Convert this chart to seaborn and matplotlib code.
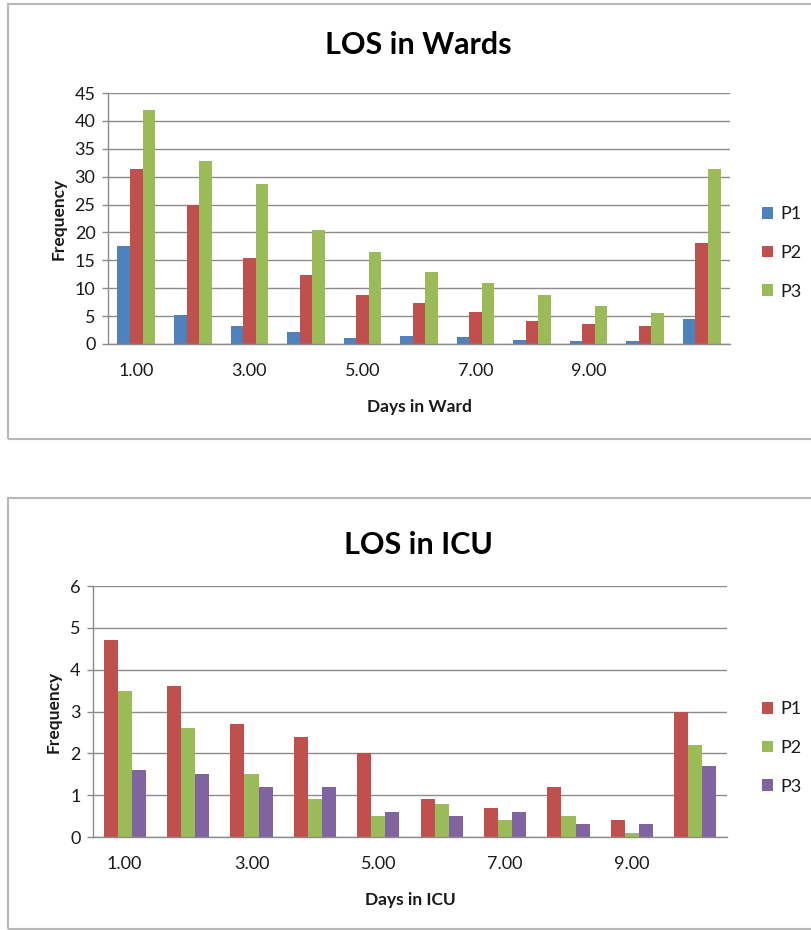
import matplotlib
matplotlib.use("Agg")
import matplotlib.pyplot as plt
import seaborn as sns
import pandas as pd
from matplotlib.patches import Rectangle, Patch

# ---- data ----
ward_days = [1, 2, 3, 4, 5, 6, 7, 8, 9, 10, 11]
ward_p1 = [17.5, 5.2, 3.3, 2.1, 1.1, 1.4, 1.3, 0.8, 0.6, 0.5, 4.4]
ward_p2 = [31.3, 25.0, 15.5, 12.4, 8.8, 7.3, 5.7, 4.1, 3.6, 3.2, 18.1]
ward_p3 = [42.0, 32.8, 28.7, 20.4, 16.5, 12.9, 10.9, 8.7, 6.9, 5.6, 31.4]

icu_days = [1, 2, 3, 4, 5, 6, 7, 8, 9, 10]
icu_p1 = [4.7, 3.6, 2.7, 2.4, 2.0, 0.9, 0.7, 1.2, 0.4, 3.0]
icu_p2 = [3.5, 2.6, 1.5, 0.9, 0.5, 0.8, 0.4, 0.5, 0.1, 2.2]
icu_p3 = [1.6, 1.5, 1.2, 1.2, 0.6, 0.5, 0.6, 0.3, 0.3, 1.7]

series_names = ["P1", "P2", "P3"]
ward_tick_labels = ["1.00", "", "3.00", "", "5.00", "", "7.00", "", "9.00", "", ""]
icu_tick_labels = ["1.00", "", "3.00", "", "5.00", "", "7.00", "", "9.00", ""]

ward_colors = ["#4F81BD", "#C0504D", "#9BBB59"]
icu_colors = ["#C0504D", "#9BBB59", "#8064A2"]


def long_df(days, vals):
    rows = []
    for name, v in zip(series_names, vals):
        for d, y in zip(days, v):
            rows.append({"day": d, "freq": y, "series": name})
    return pd.DataFrame(rows)


sns.set_theme(style="white")
plt.rcParams["font.family"] = ["Lato", "DejaVu Sans"]

W, H = 812, 930
fig = plt.figure(figsize=(W / 100, H / 100), dpi=100)
fig.patch.set_facecolor("white")

# chart frames
frame_col = "#b8b8b8"
fig.add_artist(Rectangle((8 / W, 1 - 439 / H), 900 / W, 435 / H, transform=fig.transFigure,
                         fill=False, edgecolor=frame_col, lw=1.5))
fig.add_artist(Rectangle((8 / W, 1 - 929 / H), 900 / W, 431 / H, transform=fig.transFigure,
                         fill=False, edgecolor=frame_col, lw=1.5))

grid_col = "#8c8c8c"
text_col = "#1a1a1a"


def draw(ax, df, days, colors, ymax, ystep, ticklabels, title, xlabel, title_y, leg_y):
    sns.barplot(data=df, x="day", y="freq", hue="series", order=days,
                hue_order=series_names, palette=colors, width=0.667,
                saturation=1, linewidth=0, errorbar=None, ax=ax)
    ax.set_ylim(0, ymax)
    ax.set_yticks(range(0, ymax + 1, ystep))
    ax.set_xlim(-0.5, len(days) - 0.5)
    ax.set_xticks(range(len(days)))
    ax.set_xticklabels(ticklabels)
    ax.yaxis.grid(True, color=grid_col, lw=1)
    ax.set_axisbelow(True)
    for s in ["top", "right"]:
        ax.spines[s].set_visible(False)
    for s in ["left", "bottom"]:
        ax.spines[s].set_color(grid_col)
        ax.spines[s].set_linewidth(1)
    ax.tick_params(axis="y", length=4, color=grid_col, width=1, pad=5,
                   labelsize=13, labelcolor=text_col, left=True)
    ax.tick_params(axis="x", length=0, pad=14, labelsize=13, labelcolor=text_col)
    ax.set_xlabel(xlabel, fontsize=12.5, fontweight="bold", color=text_col, labelpad=14)
    ax.set_ylabel("Frequency", fontsize=12.5, fontweight="bold", color=text_col, labelpad=6)
    fig.text(418 / W, 1 - title_y / H, title, ha="center", va="center",
             fontsize=22, fontweight="bold", color="#000000")
    handles = [Patch(facecolor=c, edgecolor="none") for c in colors]
    fig.legend(handles, series_names, loc="center left",
               bbox_to_anchor=(762 / W, 1 - leg_y / H), frameon=False,
               borderpad=0, borderaxespad=0,
               handlelength=0.6, handleheight=0.6, handletextpad=0.4,
               labelspacing=1.25, fontsize=13, labelcolor=text_col)
    leg = ax.get_legend()
    if leg is not None:
        leg.remove()


ax1 = fig.add_axes([108 / W, 1 - 344 / H, 622 / W, 251 / H])
draw(ax1, long_df(ward_days, [ward_p1, ward_p2, ward_p3]), ward_days, ward_colors,
     45, 5, ward_tick_labels, "LOS in Wards", "Days in Ward", 45, 253)

ax2 = fig.add_axes([93 / W, 1 - 837 / H, 634 / W, 251 / H])
draw(ax2, long_df(icu_days, [icu_p1, icu_p2, icu_p3]), icu_days, icu_colors,
     6, 1, icu_tick_labels, "LOS in ICU", "Days in ICU", 545, 748)

fig.savefig("out.png", dpi=100, facecolor="white")
